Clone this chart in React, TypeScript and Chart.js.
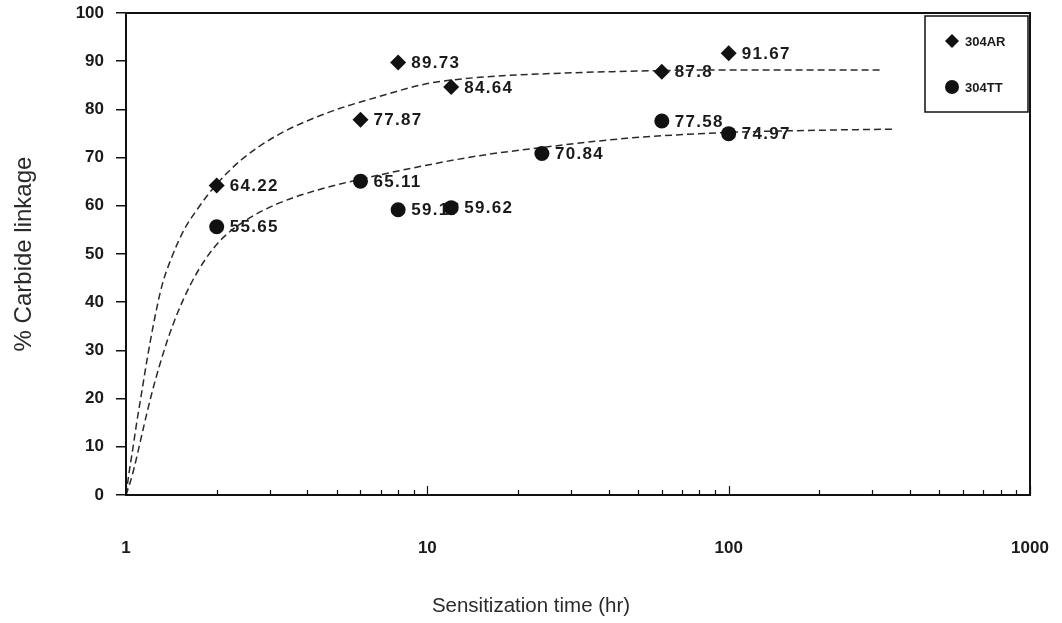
import React, { useEffect, useRef } from "react";
import { Chart, registerables } from "chart.js";

Chart.register(...registerables);

// Measured points
const arHours = [2, 6, 8, 12, 60, 100];
const arValues = [64.22, 77.87, 89.73, 84.64, 87.8, 91.67];
const ttHours = [2, 6, 8, 12, 24, 60, 100];
const ttValues = [55.65, 65.11, 59.17, 59.62, 70.84, 77.58, 74.97];

// Dashed trend curves
const arTrendHours = [1, 1.023, 1.047, 1.079, 1.122, 1.174, 1.239, 1.317, 1.422, 1.558, 1.734, 2, 2.41, 3.15, 4.62, 6.77, 9.92, 14.5, 24.8, 45.8, 98.5, 324];
const arTrendValues = [0, 4.5, 8.5, 14, 20.5, 28, 36, 43.5, 49.5, 55, 59.5, 64.5, 69.5, 74.5, 79.2, 82.5, 85.3, 86.6, 87.4, 87.9, 88.2, 88.2];
const ttTrendHours = [1, 1.031, 1.063, 1.096, 1.148, 1.211, 1.287, 1.379, 1.488, 1.632, 1.816, 2.07, 2.5, 3.15, 4.28, 6.09, 9.2, 14.9, 24.8, 45.8, 98.5, 211, 354];
const ttTrendValues = [0, 2.5, 5.5, 9, 14.5, 20.5, 26.5, 32.5, 38, 43.5, 48.5, 53, 57, 60.3, 63.2, 65.6, 68, 70.4, 72.2, 74, 75.2, 75.7, 75.9];

const seriesNames = ["304AR", "304TT"];
const xTitle = "Sensitization time (hr)";
const yTitle = "% Carbide linkage";
const xMajorTicks = [1, 10, 100, 1000];
const xMinorTicks = [2, 3, 4, 5, 6, 7, 8, 9, 20, 30, 40, 50, 60, 70, 80, 90, 200, 300, 400, 500, 600, 700, 800, 900];

const INK = "#111111";
const FONT = "'Liberation Sans', Arial, sans-serif";

const toPts = (xs: number[], ys: number[]) => xs.map((x, i) => ({ x, y: ys[i] }));

const framePlugin = {
  id: "frameAndExtras",
  beforeDatasetsDraw(chart: any) {
    const ctx = chart.ctx;
    ctx.save();
    ctx.font = `bold 17px ${FONT}`;
    (ctx as any).letterSpacing = "1.3px";
    ctx.fillStyle = "#1a1a1a";
    ctx.textBaseline = "middle";
    ctx.textAlign = "left";
    [0, 1].forEach((di) => {
      const meta = chart.getDatasetMeta(di);
      const ds = chart.data.datasets[di];
      meta.data.forEach((el: any, j: number) => {
        const v = ds.data[j].y;
        ctx.fillText(String(v), el.x + 13, el.y + 1);
      });
    });
    ctx.restore();
  },
  afterDraw(chart: any) {
    const ctx = chart.ctx;
    const { left, right, top, bottom } = chart.chartArea;
    const xs = chart.scales.x;
    ctx.save();
    // frame
    ctx.strokeStyle = INK;
    ctx.lineWidth = 2;
    ctx.strokeRect(left, top, right - left, bottom - top);
    // inside ticks on x axis
    ctx.lineWidth = 1.2;
    ctx.beginPath();
    xMinorTicks.forEach((v) => {
      const px = Math.round(xs.getPixelForValue(v)) + 0.5;
      ctx.moveTo(px, bottom);
      ctx.lineTo(px, bottom - 5);
    });
    xMajorTicks.forEach((v) => {
      const px = Math.round(xs.getPixelForValue(v)) + 0.5;
      ctx.moveTo(px, bottom);
      ctx.lineTo(px, bottom - 9);
    });
    ctx.stroke();

    // x axis title (sits left of the plot centre in the source)
    ctx.font = `20.5px ${FONT}`;
    ctx.fillStyle = "#2a2a2a";
    ctx.textAlign = "center";
    ctx.textBaseline = "middle";
    ctx.fillText(xTitle, left + (right - left) * 0.448, 606);

    // legend box
    const bx = right - 105;
    const by = top + 3;
    const bw = 103;
    const bh = 96;
    ctx.fillStyle = "#ffffff";
    ctx.fillRect(bx, by, bw, bh);
    ctx.lineWidth = 1.5;
    ctx.strokeStyle = INK;
    ctx.strokeRect(bx, by, bw, bh);
    ctx.fillStyle = INK;
    const d1x = bx + 27;
    const d1y = by + 25;
    ctx.beginPath();
    ctx.moveTo(d1x, d1y - 7);
    ctx.lineTo(d1x + 7, d1y);
    ctx.lineTo(d1x, d1y + 7);
    ctx.lineTo(d1x - 7, d1y);
    ctx.closePath();
    ctx.fill();
    const c1y = by + 71;
    ctx.beginPath();
    ctx.arc(d1x, c1y, 7, 0, Math.PI * 2);
    ctx.fill();
    ctx.font = `bold 13px ${FONT}`;
    ctx.textBaseline = "middle";
    ctx.textAlign = "left";
    ctx.fillStyle = "#1a1a1a";
    ctx.fillText(seriesNames[0], bx + 40, d1y + 1);
    ctx.fillText(seriesNames[1], bx + 40, c1y + 1);
    ctx.restore();
  },
};

export default function App() {
  const canvasRef = useRef<HTMLCanvasElement | null>(null);

  useEffect(() => {
    if (!canvasRef.current) return;
    Chart.defaults.font.family = FONT;
    const chart = new Chart(canvasRef.current, {
      type: "scatter",
      data: {
        datasets: [
          {
            label: seriesNames[0],
            data: toPts(arHours, arValues),
            pointStyle: "rectRot",
            pointRadius: 8,
            backgroundColor: INK,
            borderColor: INK,
            borderWidth: 0,
            showLine: false,
          },
          {
            label: seriesNames[1],
            data: toPts(ttHours, ttValues),
            pointStyle: "circle",
            pointRadius: 7.5,
            backgroundColor: INK,
            borderColor: INK,
            borderWidth: 0,
            showLine: false,
          },
          {
            label: "AR trend",
            data: toPts(arTrendHours, arTrendValues),
            showLine: true,
            pointRadius: 0,
            borderColor: "#2a2a2a",
            borderWidth: 1.5,
            borderDash: [7, 4],
            cubicInterpolationMode: "monotone",
            fill: false,
          },
          {
            label: "TT trend",
            data: toPts(ttTrendHours, ttTrendValues),
            showLine: true,
            pointRadius: 0,
            borderColor: "#2a2a2a",
            borderWidth: 1.5,
            borderDash: [7, 4],
            cubicInterpolationMode: "monotone",
            fill: false,
          },
        ],
      },
      options: {
        responsive: false,
        animation: false,
        layout: { padding: { top: 13, right: 32, left: 0, bottom: 0 } },
        plugins: {
          legend: { display: false },
          tooltip: { enabled: false },
        },
        scales: {
          x: {
            type: "logarithmic",
            min: 1,
            max: 1000,
            afterFit: (s: any) => {
              s.height = 128;
              s.paddingLeft = 0;
              s.paddingRight = 0;
            },
            afterBuildTicks: (s: any) => {
              s.ticks = xMajorTicks.map((v) => ({ value: v, major: true }));
            },
            grid: { display: false, drawTicks: false },
            border: { display: false },
            ticks: {
              autoSkip: false,
              maxRotation: 0,
              padding: 43,
              color: "#1a1a1a",
              font: { size: 17, weight: "bold" },
              callback: (v: any) => String(v),
            },
            title: { display: false },
          },
          y: {
            min: 0,
            max: 100,
            afterFit: (s: any) => {
              s.width = 126;
              s.paddingTop = 0;
              s.paddingBottom = 0;
            },
            grid: {
              drawOnChartArea: false,
              drawTicks: true,
              tickLength: 10,
              color: INK,
              lineWidth: 1.5,
            },
            border: { display: false },
            ticks: {
              stepSize: 10,
              padding: 12,
              color: "#1a1a1a",
              font: { size: 17, weight: "bold" },
            },
            title: {
              display: true,
              text: yTitle,
              color: "#2a2a2a",
              font: { size: 24, weight: "normal" },
              padding: { top: 10, bottom: 0 },
            },
          },
        },
      },
      plugins: [framePlugin],
    } as any);
    return () => chart.destroy();
  }, []);

  return (
    <div style={{ position: "absolute", left: 0, top: 0, width: 1062, height: 623, background: "#fff" }}>
      <canvas ref={canvasRef} width={1062} height={623} style={{ display: "block" }} />
    </div>
  );
}
